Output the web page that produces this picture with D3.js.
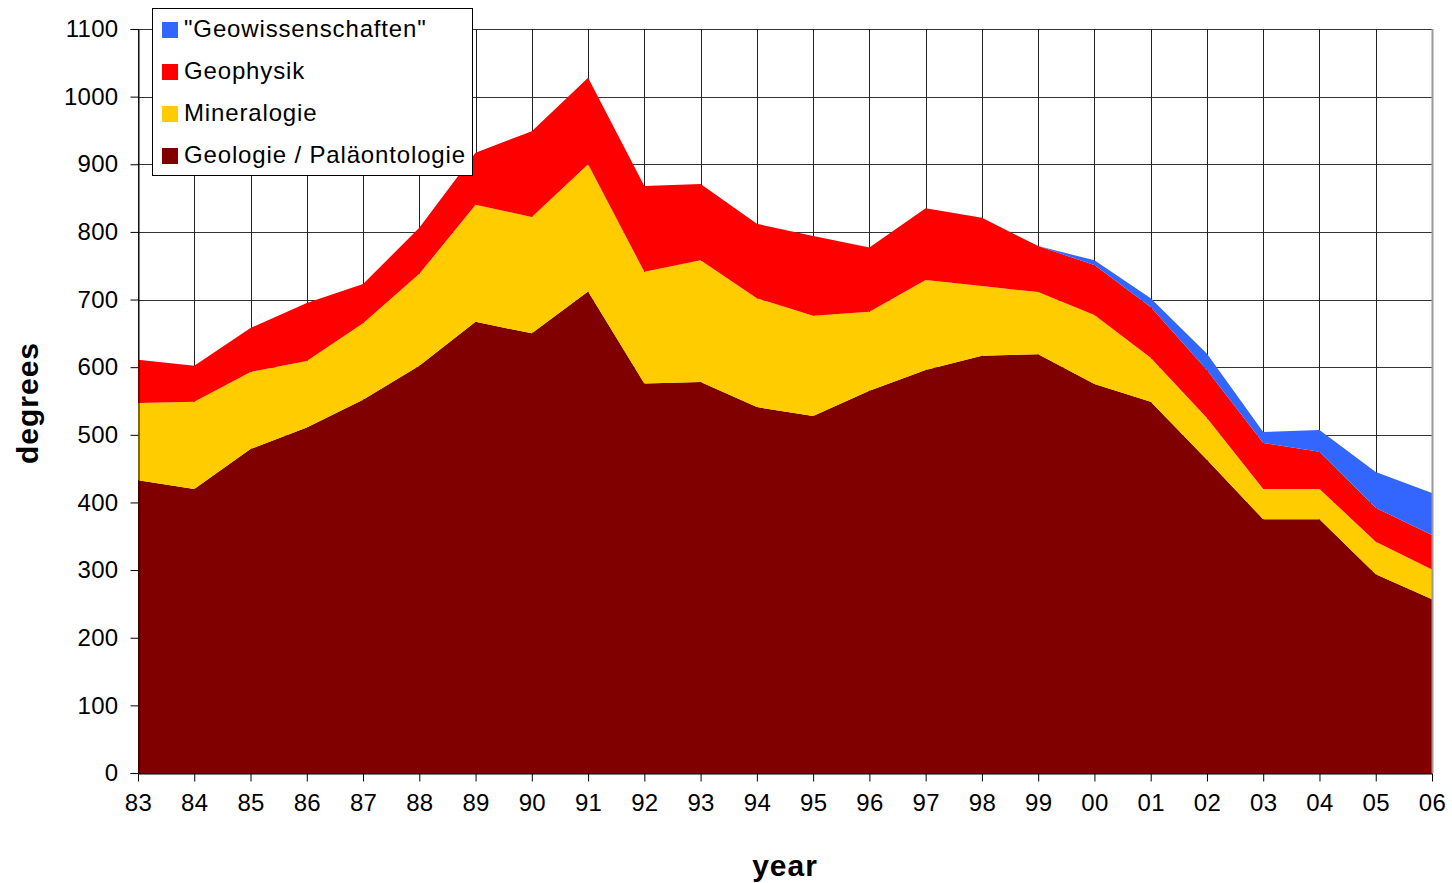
<!DOCTYPE html>
<html>
<head>
<meta charset="utf-8">
<script src="https://cdn.jsdelivr.net/npm/d3@7"></script>
<style>
html, body { margin: 0; padding: 0; background: #fff; }
svg { display: block; font-family: "Liberation Sans", Arial, sans-serif; }
</style>
</head>
<body>
<svg id="chart" width="1452" height="883"></svg>
<script>
const years = ["83","84","85","86","87","88","89","90","91","92","93","94","95","96","97","98","99","00","01","02","03","04","05","06"];
const geologie = [433, 420, 479, 511, 552, 602, 667, 650, 712, 576, 578, 541, 528, 565, 596, 617, 619, 575, 549, 463, 375, 375, 294, 257];
const mineralogie = [114, 129, 114, 98, 113, 136, 173, 172, 188, 165, 180, 161, 148, 117, 133, 103, 92, 102, 65, 62, 45, 45, 48, 44];
const geophysik = [64, 53, 65, 86, 58, 68, 77, 127, 128, 127, 113, 110, 118, 95, 106, 101, 68, 74, 75, 71, 68, 55, 50, 51];
const geowissenschaften = [0, 0, 0, 0, 0, 0, 0, 0, 0, 0, 0, 0, 0, 0, 0, 0, 0, 7, 13, 24, 16, 32, 53, 62];
const yTicks = [0, 100, 200, 300, 400, 500, 600, 700, 800, 900, 1000, 1100];

const seriesNames = ["Geologie / Paläontologie", "Mineralogie", "Geophysik", "\"Geowissenschaften\""];
const seriesColors = ["#800000", "#FFCC00", "#FF0000", "#3366FF"];
const seriesData = [geologie, mineralogie, geophysik, geowissenschaften];

const rows = years.map((yr, i) => {
  const r = { year: yr };
  seriesNames.forEach((n, k) => r[n] = seriesData[k][i]);
  return r;
});

const svg = d3.select("#chart");
const pLeft = 138, pRight = 1432, pTop = 29, pBottom = 773;

const x = d3.scalePoint().domain(years).range([pLeft, pRight]);
const y = d3.scaleLinear().domain([0, 1100]).range([pBottom, pTop]);

const stacked = d3.stack().keys(seriesNames)(rows);

// gridlines
const grid = svg.append("g");
grid.selectAll("line.h").data(yTicks).join("line").attr("class", "h")
  .attr("x1", pLeft).attr("x2", pRight)
  .attr("y1", d => Math.round(y(d)) + 0.5).attr("y2", d => Math.round(y(d)) + 0.5)
  .attr("stroke", "#333").attr("stroke-width", 1);
grid.selectAll("line.v").data(years).join("line").attr("class", "v")
  .attr("y1", pTop).attr("y2", pBottom)
  .attr("x1", d => Math.round(x(d)) + 0.5).attr("x2", d => Math.round(x(d)) + 0.5)
  .attr("stroke", "#222").attr("stroke-width", 1);

// areas
const area = d3.area()
  .x(d => x(d.data.year))
  .y0(d => y(d[0]))
  .y1(d => y(d[1]));
svg.append("g").selectAll("path").data(stacked).join("path")
  .attr("d", area)
  .attr("fill", (d, i) => seriesColors[i]);

// right border
svg.append("line").attr("x1", pRight + 0.5).attr("x2", pRight + 0.5).attr("y1", pTop).attr("y2", pBottom)
  .attr("stroke", "#999").attr("stroke-width", 2);

// axes
const yAxis = d3.axisLeft(y).tickValues(yTicks).tickFormat(d3.format("d")).tickSize(8).tickPadding(12);
const gy = svg.append("g").attr("transform", `translate(${pLeft + 0.5},0)`).call(yAxis);
gy.select(".domain").attr("stroke", "#000");
gy.selectAll(".tick line").attr("stroke", "#000");
gy.selectAll("text").attr("font-size", "24px").attr("fill", "#000").attr("letter-spacing", "0.3px")
  .attr("font-family", "'Liberation Sans', Arial, sans-serif");

const xAxis = d3.axisBottom(x).tickSize(8).tickPadding(12).tickSizeOuter(0);
const gx = svg.append("g").attr("transform", `translate(0,${pBottom + 0.5})`).call(xAxis);
gx.select(".domain").attr("stroke", "#000");
gx.selectAll(".tick line").attr("stroke", "#000");
gx.selectAll("text").attr("font-size", "24px").attr("fill", "#000").attr("letter-spacing", "0.3px")
  .attr("font-family", "'Liberation Sans', Arial, sans-serif");

// axis titles
svg.append("text").attr("x", 785).attr("y", 876).attr("text-anchor", "middle")
  .attr("font-size", "30px").attr("font-weight", "bold").attr("letter-spacing", "1px").text("year");
svg.append("text").attr("transform", "translate(38,403) rotate(-90)").attr("text-anchor", "middle")
  .attr("font-size", "30px").attr("font-weight", "bold").attr("letter-spacing", "1px").text("degrees");

// legend
const legend = svg.append("g");
legend.append("rect").attr("x", 152.5).attr("y", 8.5).attr("width", 320).attr("height", 167)
  .attr("fill", "#fff").attr("stroke", "#000").attr("stroke-width", 1);
const legendOrder = [3, 2, 1, 0];
legendOrder.forEach((k, i) => {
  const cy = 29 + i * 42;
  legend.append("rect").attr("x", 162).attr("y", cy - 7).attr("width", 16).attr("height", 16)
    .attr("fill", seriesColors[k]);
  legend.append("text").attr("x", 184).attr("y", cy + 8).attr("font-size", "24px")
    .attr("letter-spacing", "0.85px")
    .attr("fill", "#000").text(seriesNames[k]);
});
</script>
</body>
</html>
